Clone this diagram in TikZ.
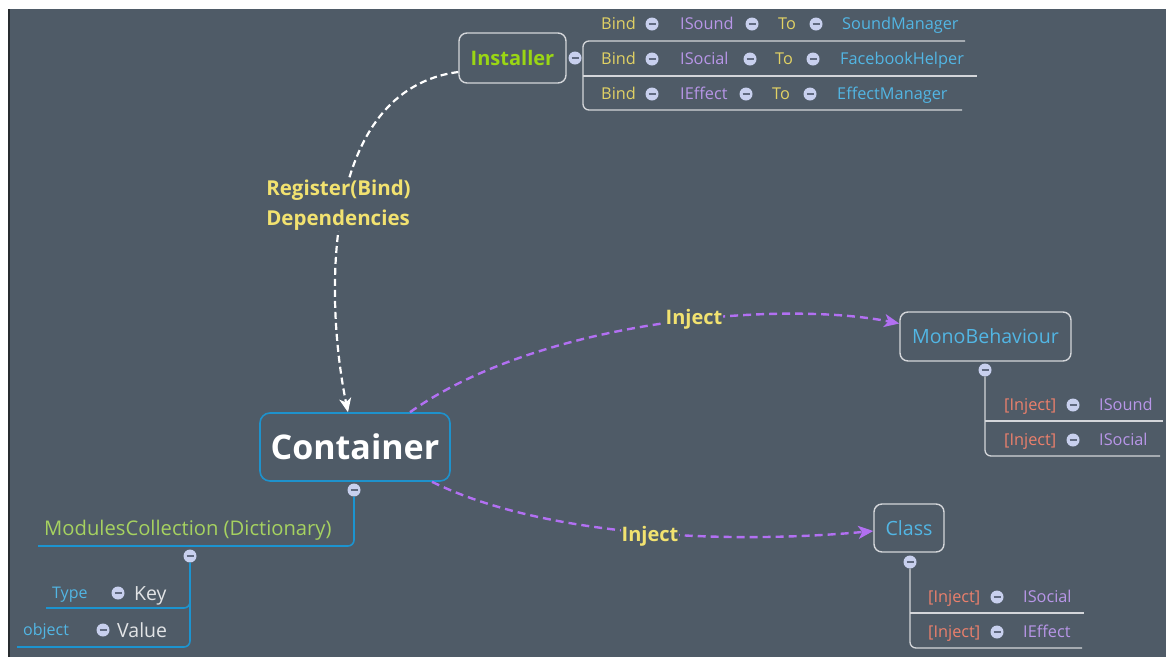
\documentclass[tikz,border=0pt]{standalone}
\usepackage{fontspec}
\setmainfont{Open Sans}
\usetikzlibrary{arrows.meta,calc}

\definecolor{slate}{RGB}{79,91,103}
\definecolor{edgedark}{RGB}{40,44,48}
\definecolor{paleline}{RGB}{212,214,218}
\definecolor{treeblue}{RGB}{28,148,208}
\definecolor{contblue}{RGB}{30,146,204}
\definecolor{knobfill}{RGB}{200,208,238}
\definecolor{knobdash}{RGB}{96,106,128}
\definecolor{lime}{RGB}{154,214,20}
\definecolor{leaf}{RGB}{166,210,96}
\definecolor{gold}{RGB}{242,226,112}
\definecolor{wordgold}{RGB}{226,210,100}
\definecolor{lav}{RGB}{184,150,232}
\definecolor{sky}{RGB}{82,182,228}
\definecolor{salmon}{RGB}{236,128,108}
\definecolor{keygray}{RGB}{226,228,230}
\definecolor{injpurple}{RGB}{178,112,242}

\newcommand\rowfont{\fontsize{16.3}{19}\selectfont}
\newcommand\keyfont{\fontsize{19.5}{22}\selectfont}
\newcommand\modsfont{\fontsize{20.2}{23}\selectfont}
\newcommand\typefont{\fontsize{16}{19}\selectfont}
\newcommand\titlefont{\fontsize{19.6}{22}\selectfont}
\newcommand\regfont{\fontsize{20.5}{24}\selectfont}
\newcommand\injfont{\fontsize{20}{24}\selectfont}

\tikzset{
  frame/.style={draw=paleline, line width=1.4pt, rounded corners=8pt, fill=slate, inner sep=0pt},
  knob/.style={circle, fill=knobfill, minimum size=13pt, inner sep=0pt,
    path picture={\draw[knobdash, line width=1.4pt]
      ([xshift=-3.5pt]path picture bounding box.center) --
      ([xshift=3.5pt]path picture bounding box.center);}},
  lbl/.style={anchor=base west, inner sep=0pt},
  paletree/.style={draw=paleline, line width=1.3pt, rounded corners=6pt},
  bluetree/.style={draw=treeblue, line width=1.6pt, rounded corners=6pt},
  injectlink/.style={draw=injpurple, line width=2.4pt, dash pattern=on 8pt off 5pt,
    -{Stealth[length=15pt,width=13pt,inset=4pt]}},
  registerlink/.style={draw=white, line width=2.2pt, dash pattern=on 7pt off 4pt,
    -{Stealth[length=14pt,width=12pt,inset=4pt]}},
  linklabel/.style={fill=slate, inner sep=1pt, text=gold, font=\bfseries\injfont},
}

\begin{document}
\begin{tikzpicture}[x=1pt,y=-1pt]
\useasboundingbox (0,0) rectangle (1168,657);
\fill[white] (0,0) rectangle (1168,657);
\fill[slate] (8,9) rectangle (1166,657);
\draw[edgedark, line width=1.5pt] (8.75,9) -- (8.75,657);

% ---------- main nodes ----------
\node[frame, minimum width=107pt, minimum height=50pt, text=lime,
      font=\bfseries\fontsize{20}{24}\selectfont] (inst) at (512.5,58) {Installer};
\node[frame, draw=contblue, line width=1.6pt, rounded corners=10pt,
      minimum width=190pt, minimum height=68pt, text=white,
      font=\bfseries\fontsize{34}{40}\selectfont] (cont) at (355,447) {Container};
\node[frame, minimum width=171pt, minimum height=49pt, text=sky,
      font=\titlefont] (mono) at (985.5,336.5) {MonoBehaviour};
\node[frame, minimum width=70pt, minimum height=48pt, text=sky,
      font=\titlefont] (cls) at (909,528) {Class};

% ---------- Installer bindings ----------
\node[knob] (ik) at (575,58) {};
\draw[paletree] (965,41) -- (583,41) -- (583,110) -- (962,110);
\draw[paletree] (583,76) -- (977,76);

\begin{scope}[every node/.append style={font=\rowfont}]
\node[lbl, text=wordgold] (b1) at (601,29.8) {Bind};
\node[knob] (b1k) at (652,24) {};
\node[lbl, text=lav] (b1i) at (680,29.8) {ISound};
\node[knob] (b1k2) at (752,24) {};
\node[lbl, text=wordgold] (b1t) at (778,29.8) {To};
\node[knob] (b1k3) at (816,24) {};
\node[lbl, text=sky] (b1c) at (842,29.8) {SoundManager};

\node[lbl, text=wordgold] (b2) at (601,64.8) {Bind};
\node[knob] (b2k) at (652,59) {};
\node[lbl, text=lav] (b2i) at (680,64.8) {ISocial};
\node[knob] (b2k2) at (750,59) {};
\node[lbl, text=wordgold] (b2t) at (775,64.8) {To};
\node[knob] (b2k3) at (813,59) {};
\node[lbl, text=sky] (b2c) at (840,64.8) {FacebookHelper};

\node[lbl, text=wordgold] (b3) at (601,99.8) {Bind};
\node[knob] (b3k) at (652,94) {};
\node[lbl, text=lav] (b3i) at (680,99.8) {IEffect};
\node[knob] (b3k2) at (746,94) {};
\node[lbl, text=wordgold] (b3t) at (772,99.8) {To};
\node[knob] (b3k3) at (810,94) {};
\node[lbl, text=sky] (b3c) at (837,99.8) {EffectManager};

% ---------- MonoBehaviour members ----------
\node[knob] (mk) at (985,370) {};
\draw[paletree] (mk.south) -- (985,456) -- (1160,456);
\draw[paletree] (985,421) -- (1163,421);
\node[lbl, text=salmon] (m1) at (1004,410.8) {[Inject]};
\node[knob] (m1k) at (1073,405) {};
\node[lbl, text=lav] (m1i) at (1099,410.8) {ISound};
\node[lbl, text=salmon] (m2) at (1004,445.8) {[Inject]};
\node[knob] (m2k) at (1073,440) {};
\node[lbl, text=lav] (m2i) at (1099,445.8) {ISocial};

% ---------- Class members ----------
\node[knob] (ck) at (910,562) {};
\draw[paletree] (ck.south) -- (910,648) -- (1082,648);
\draw[paletree] (910,613) -- (1084,613);
\node[lbl, text=salmon] (c1) at (928,602.8) {[Inject]};
\node[knob] (c1k) at (997,597) {};
\node[lbl, text=lav] (c1i) at (1023,602.8) {ISocial};
\node[lbl, text=salmon] (c2) at (928,637.8) {[Inject]};
\node[knob] (c2k) at (997,632) {};
\node[lbl, text=lav] (c2i) at (1023,637.8) {IEffect};
\end{scope}

% ---------- Container contents ----------
\node[knob] (ctk) at (354,490) {};
\draw[bluetree] (ctk.south) -- (354,546) -- (38,546);
\node[lbl, text=leaf, font=\modsfont] (mods) at (44,535) {ModulesCollection (Dictionary)};
\node[knob] (mdk) at (190,556) {};
\draw[bluetree] (mdk.south) -- (190,647) -- (17,647);
\draw[bluetree] (46,608) -- (190,608) -- (190,598);
\node[lbl, text=sky, font=\typefont] (ty) at (52,598.8) {Type};
\node[knob] (kk) at (118,593) {};
\node[lbl, text=keygray, font=\keyfont] (ky) at (134,600) {Key};
\node[lbl, text=sky, font=\typefont] (ob) at (23,635.8) {object};
\node[knob] (vk) at (103,630) {};
\node[lbl, text=keygray, font=\keyfont] (vl) at (117,637) {Value};

% ---------- links ----------
\draw[registerlink] ([yshift=-14pt]inst.west)
  .. controls (320,90) and (325,300) .. ([xshift=-7pt]cont.north);
\node[linklabel, align=left, font=\bfseries\regfont] (reg) at (338.5,205)
  {Register(Bind)\\[6pt]Dependencies};

\draw[injectlink] ([xshift=55pt]cont.north)
  .. controls (540,320) and (780,300) .. ([yshift=13pt]mono.west);
\node[linklabel] (inj1) at (694,319) {Inject};

\draw[injectlink] ([xshift=77pt]cont.south)
  .. controls (540,535) and (720,545) .. ([yshift=-3pt]cls.west);
\node[linklabel] (inj2) at (650,536) {Inject};
\end{tikzpicture}
\end{document}
